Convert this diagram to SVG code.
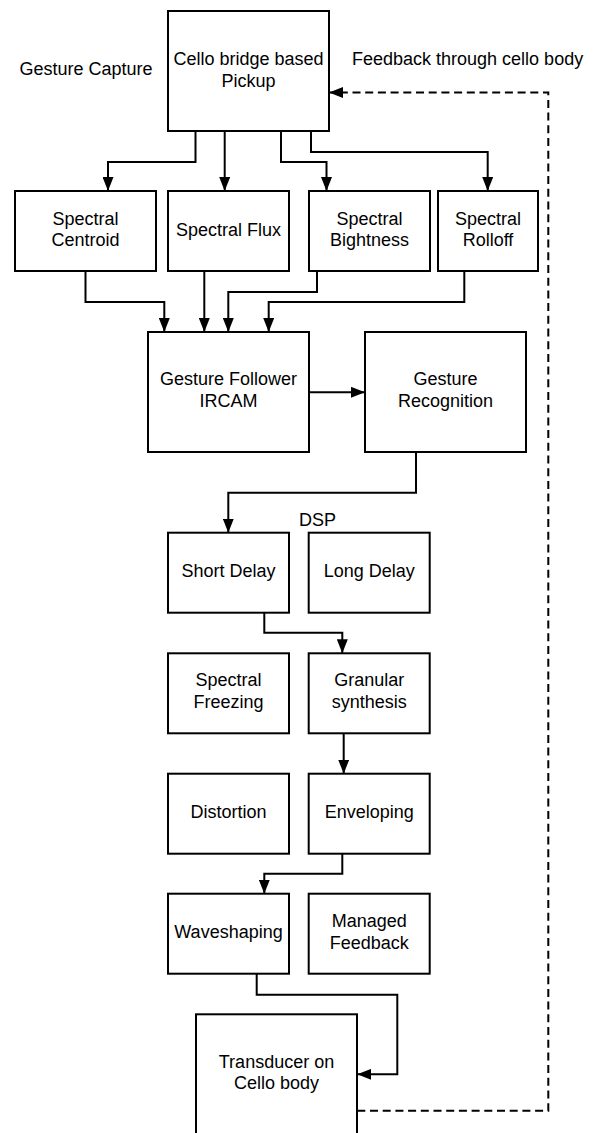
<svg xmlns="http://www.w3.org/2000/svg" width="595" height="1133" viewBox="0 0 595 1133">
<style>
.box{fill:#fff;stroke:#000;stroke-width:2}
.t{font-family:"Liberation Sans",Arial,sans-serif;font-size:18px;fill:#000;text-anchor:middle}
.l{font-family:"Liberation Sans",Arial,sans-serif;font-size:18px;fill:#000}
.c{fill:none;stroke:#000;stroke-width:2}
.d{fill:none;stroke:#000;stroke-width:2;stroke-dasharray:8 4.7}
</style>
<defs>
<marker id="a" markerUnits="userSpaceOnUse" markerWidth="14" markerHeight="11" refX="14" refY="5.5" orient="auto">
<path d="M0,0 L14,5.5 L0,11 Z" fill="#000"/>
</marker>
</defs>
<rect width="595" height="1133" fill="#fff"/>
<text class="l" x="19.5" y="75.3">Gesture Capture</text>
<text class="l" x="352" y="64.8">Feedback through cello body</text>
<text class="l" x="299" y="526.3">DSP</text>
<g id="connectors">
<path class="c" d="M195.5,131 V162 H108 V191" marker-end="url(#a)"/>
<path class="c" d="M224.7,131 V191" marker-end="url(#a)"/>
<path class="c" d="M281,131 V162 H326.5 V191" marker-end="url(#a)"/>
<path class="c" d="M311,131 V152 H487.7 V191" marker-end="url(#a)"/>
<path class="c" d="M85.5,271 V302 H164.3 V332" marker-end="url(#a)"/>
<path class="c" d="M204.3,271 V332" marker-end="url(#a)"/>
<path class="c" d="M317,271 V292 H228.3 V332" marker-end="url(#a)"/>
<path class="c" d="M464.3,271 V302 H268.7 V332" marker-end="url(#a)"/>
<path class="c" d="M309,392.3 H365" marker-end="url(#a)"/>
<path class="c" d="M416,452 V492.7 H228.3 V532.7" marker-end="url(#a)"/>
<path class="c" d="M264.3,612.7 V632.7 H342.3 V653.3" marker-end="url(#a)"/>
<path class="c" d="M343.7,733.3 V773.7" marker-end="url(#a)"/>
<path class="c" d="M342.3,853.7 V873.7 H264.3 V893.7" marker-end="url(#a)"/>
<path class="c" d="M256.7,974 V994.7 H397.3 V1074.3 H357.3" marker-end="url(#a)"/>
<path class="d" d="M357.3,1110.7 H548.3 V92.5 H329" marker-end="url(#a)"/>
</g>
<g id="pickup"><rect class="box" x="168" y="11" width="161" height="120"/><text class="t" x="248.5" y="64.8">Cello bridge based</text><text class="t" x="248.5" y="86.5">Pickup</text></g>
<g id="centroid"><rect class="box" x="15" y="191" width="141" height="80"/><text class="t" x="85.5" y="224.6">Spectral</text><text class="t" x="85.5" y="246.3">Centroid</text></g>
<g id="flux"><rect class="box" x="168" y="191" width="121" height="80"/><text class="t" x="228.5" y="235.8">Spectral Flux</text></g>
<g id="brightness"><rect class="box" x="309" y="191" width="121" height="80"/><text class="t" x="369.5" y="224.6">Spectral</text><text class="t" x="369.5" y="246.3">Bightness</text></g>
<g id="rolloff"><rect class="box" x="438" y="191" width="100" height="80"/><text class="t" x="488" y="224.6">Spectral</text><text class="t" x="488" y="246.3">Rolloff</text></g>
<g id="follower"><rect class="box" x="148" y="332" width="161" height="120"/><text class="t" x="228.5" y="385.3">Gesture Follower</text><text class="t" x="228.5" y="407">IRCAM</text></g>
<g id="recognition"><rect class="box" x="365" y="332" width="161" height="120"/><text class="t" x="445.5" y="385.3">Gesture</text><text class="t" x="445.5" y="407">Recognition</text></g>
<g id="shortdelay"><rect class="box" x="168" y="532.7" width="121" height="80"/><text class="t" x="228.5" y="577">Short Delay</text></g>
<g id="longdelay"><rect class="box" x="308.7" y="532.7" width="121" height="80"/><text class="t" x="369.2" y="577">Long Delay</text></g>
<g id="freezing"><rect class="box" x="168" y="653.3" width="121" height="80"/><text class="t" x="228.5" y="686.3">Spectral</text><text class="t" x="228.5" y="708">Freezing</text></g>
<g id="granular"><rect class="box" x="308.7" y="653.3" width="121" height="80"/><text class="t" x="369.2" y="686.3">Granular</text><text class="t" x="369.2" y="708">synthesis</text></g>
<g id="distortion"><rect class="box" x="168" y="773.7" width="121" height="80"/><text class="t" x="228.5" y="818">Distortion</text></g>
<g id="enveloping"><rect class="box" x="308.7" y="773.7" width="121" height="80"/><text class="t" x="369.2" y="818">Enveloping</text></g>
<g id="waveshaping"><rect class="box" x="168" y="893.7" width="121" height="80"/><text class="t" x="228.5" y="938">Waveshaping</text></g>
<g id="managed"><rect class="box" x="308.7" y="893.7" width="121" height="80"/><text class="t" x="369.2" y="927.3">Managed</text><text class="t" x="369.2" y="948.6">Feedback</text></g>
<g id="transducer"><rect class="box" x="196" y="1014.3" width="161" height="120"/><text class="t" x="276.5" y="1068">Transducer on</text><text class="t" x="276.5" y="1089.3">Cello body</text></g>
</svg>
